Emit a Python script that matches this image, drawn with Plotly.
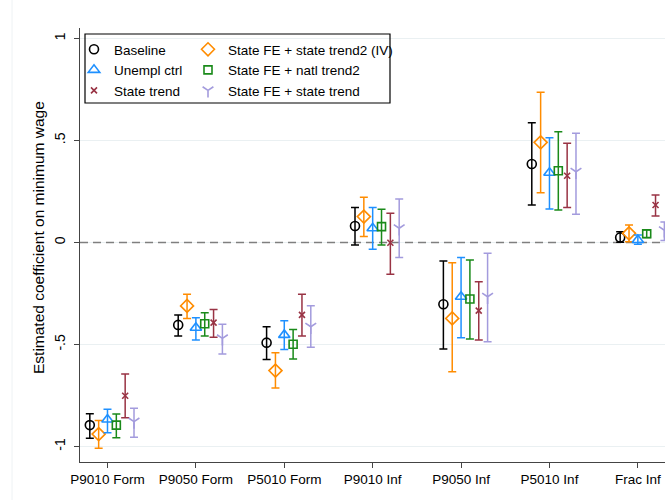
import plotly.graph_objects as go

categories = ["P9010 Form", "P9050 Form", "P5010 Form", "P9010 Inf", "P9050 Inf", "P5010 Inf", "Frac Inf"]
y_tick_vals = [-1, -0.5, 0, 0.5, 1]
y_tick_text = ["-1", "-.5", "0", ".5", "1"]
reference_value = 0

baseline_coef = [-0.895, -0.404, -0.491, 0.081, -0.303, 0.385, 0.025]
baseline_lo = [-0.960, -0.458, -0.573, -0.012, -0.522, 0.184, 0.001]
baseline_hi = [-0.840, -0.355, -0.413, 0.171, -0.091, 0.587, 0.053]

iv_coef = [-0.939, -0.311, -0.628, 0.127, -0.372, 0.491, 0.045]
iv_lo = [-1.009, -0.372, -0.713, 0.029, -0.633, 0.244, 0.004]
iv_hi = [-0.873, -0.254, -0.540, 0.222, -0.099, 0.736, 0.086]

unempl_coef = [-0.868, -0.418, -0.453, 0.070, -0.266, 0.342, 0.012]
unempl_lo = [-0.932, -0.478, -0.524, -0.033, -0.467, 0.164, -0.009]
unempl_hi = [-0.818, -0.369, -0.383, 0.171, -0.074, 0.514, 0.037]

natl_coef = [-0.895, -0.398, -0.499, 0.078, -0.277, 0.352, 0.043]
natl_lo = [-0.957, -0.458, -0.571, -0.012, -0.473, 0.159, 0.025]
natl_hi = [-0.841, -0.344, -0.426, 0.163, -0.086, 0.543, 0.061]

strend_coef = [-0.751, -0.393, -0.355, -0.001, -0.334, 0.327, 0.184]
strend_lo = [-0.859, -0.465, -0.458, -0.156, -0.478, 0.171, 0.130]
strend_hi = [-0.645, -0.328, -0.254, 0.143, -0.192, 0.486, 0.233]

fe_strend_coef = [-0.878, -0.470, -0.413, 0.070, -0.266, 0.347, 0.060]
fe_strend_lo = [-0.955, -0.547, -0.514, -0.074, -0.486, 0.138, 0.010]
fe_strend_hi = [-0.813, -0.401, -0.310, 0.213, -0.053, 0.535, 0.100]

series = [
    ("Baseline", baseline_coef, baseline_lo, baseline_hi),
    ("State FE + state trend2 (IV)", iv_coef, iv_lo, iv_hi),
    ("Unempl ctrl", unempl_coef, unempl_lo, unempl_hi),
    ("State FE + natl trend2", natl_coef, natl_lo, natl_hi),
    ("State trend", strend_coef, strend_lo, strend_hi),
    ("State FE + state trend", fe_strend_coef, fe_strend_lo, fe_strend_hi),
]

styles = {
    "Baseline": dict(offset=-0.2, symbol="circle-open", color="#000000", size=9, legend="legend"),
    "State FE + state trend2 (IV)": dict(offset=-0.1, symbol="diamond-open", color="#FF8C00", size=10, legend="legend2"),
    "Unempl ctrl": dict(offset=0.0, symbol="triangle-up-open", color="#1E90FF", size=10, legend="legend"),
    "State FE + natl trend2": dict(offset=0.1, symbol="square-open", color="#1A8A1A", size=8, legend="legend2"),
    "State trend": dict(offset=0.2, symbol="x-thin-open", color="#993344", size=6, legend="legend"),
    "State FE + state trend": dict(offset=0.3, symbol="y-down-open", color="#A39BDD", size=9, legend="legend2"),
}
legend_order = ["Baseline", "Unempl ctrl", "State trend",
                "State FE + state trend2 (IV)", "State FE + natl trend2", "State FE + state trend"]

x_range = [0.689, 7.307]

fig = go.Figure()
# dashed reference line at zero, drawn beneath the markers
fig.add_trace(go.Scatter(
    x=x_range, y=[reference_value, reference_value], mode="lines",
    line=dict(color="#7F7F7F", width=1.7, dash="8px,5px"),
    showlegend=False, hoverinfo="skip", cliponaxis=True,
))
for name, coef, lo, hi in series:
    st = styles[name]
    xs = [i + 1 + st["offset"] for i in range(len(categories))]
    fig.add_trace(go.Scatter(
        x=xs, y=coef, mode="markers", name=name,
        legend=st["legend"], legendrank=legend_order.index(name) + 1,
        marker=dict(symbol=st["symbol"], size=st["size"], color=st["color"],
                    line=dict(color=st["color"], width=1.6)),
        error_y=dict(type="data", symmetric=False,
                     array=[h - c for h, c in zip(hi, coef)],
                     arrayminus=[c - l for c, l in zip(coef, lo)],
                     color=st["color"], thickness=1.5, width=4),
    ))

W, H = 665, 500
ml, mr, mt, mb = 80, 0, 28, 38
pw, ph = W - ml - mr, H - mt - mb

def px_x(p):
    return (p - ml) / pw

def px_y(p):
    return (H - mb - p) / ph

font_family = "Liberation Sans, Arial, sans-serif"

fig.update_layout(
    width=W, height=H,
    margin=dict(l=ml, r=mr, t=mt, b=mb),
    paper_bgcolor="white", plot_bgcolor="white",
    font=dict(family=font_family, size=13.5, color="black"),
    showlegend=True,
    legend=dict(x=px_x(74), y=px_y(34), xanchor="left", yanchor="top",
                bgcolor="rgba(0,0,0,0)", borderwidth=0, itemwidth=30,
                font=dict(size=13.5), tracegroupgap=0),
    legend2=dict(x=px_x(188), y=px_y(34), xanchor="left", yanchor="top",
                 bgcolor="rgba(0,0,0,0)", borderwidth=0, itemwidth=30,
                 font=dict(size=13.5), tracegroupgap=0),
    xaxis=dict(range=x_range, tickmode="array",
               tickvals=list(range(1, len(categories) + 1)), ticktext=categories,
               showgrid=False, zeroline=False, showline=True, linecolor="#444444",
               linewidth=1.3, ticks="outside", ticklen=5, tickcolor="#444444",
               tickfont=dict(size=13.5)),
    yaxis=dict(range=[(242.5 - 462) / 204, (242.5 - 28) / 204], tickmode="array",
               tickvals=y_tick_vals, ticktext=y_tick_text, tickangle=-90,
               showgrid=True, gridcolor="#EAF0F2", gridwidth=1,
               zeroline=False, showline=True, linecolor="#444444", linewidth=1.3,
               ticks="outside", ticklen=5, tickcolor="#444444",
               tickfont=dict(size=14), ticklabelstandoff=3),
    shapes=[
        dict(type="rect", xref="paper", yref="paper", x0=px_x(85), x1=px_x(390),
             y0=px_y(103), y1=px_y(34), line=dict(color="black", width=1.2),
             fillcolor="rgba(0,0,0,0)", layer="above"),
        dict(type="line", xref="paper", yref="paper", x0=px_x(12), x1=px_x(12),
             y0=px_y(500), y1=px_y(0), line=dict(color="#EEF2F4", width=1)),
    ],
    annotations=[
        dict(text="Estimated coefficient on minimum wage", xref="paper", yref="paper",
             x=px_x(38), y=px_y(238), showarrow=False, textangle=-90,
             font=dict(size=15.5), xanchor="center", yanchor="middle"),
    ],
)

fig.write_html("out.html")
